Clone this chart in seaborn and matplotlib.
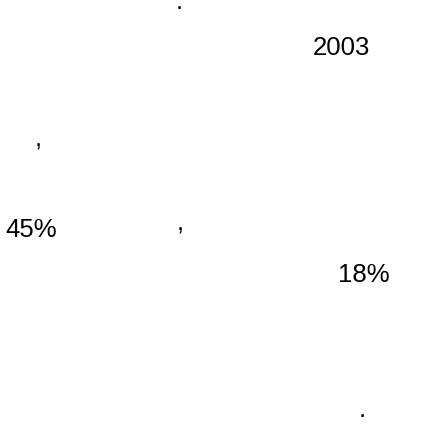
import matplotlib
matplotlib.use("Agg")
import matplotlib.pyplot as plt
import seaborn as sns

# text items visible in the picture (labels and their values)
labels = [".", "2003", ",", "45%", ",", "18%", "."]

# layout: centre x and baseline y in pixels of the 447x424 canvas
pos_x = [179.5, 341.5, 38, 31, 180, 363.5, 362.5]
pos_y = [9, 55, 146, 237, 231, 282, 417]

sns.set_theme(style="white")
plt.rcParams["font.family"] = ["Liberation Sans", "DejaVu Sans"]

fig = plt.figure(figsize=(4.47, 4.24), dpi=100)
ax = fig.add_axes([0, 0, 1, 1])
ax.set_xlim(0, 447)
ax.set_ylim(424, 0)
ax.axis("off")

for lab, x, y in zip(labels, pos_x, pos_y):
    ax.text(x, y, lab, ha="center", va="baseline", fontsize=18.5, color="black")

fig.savefig("out.png", dpi=100, facecolor="white")
